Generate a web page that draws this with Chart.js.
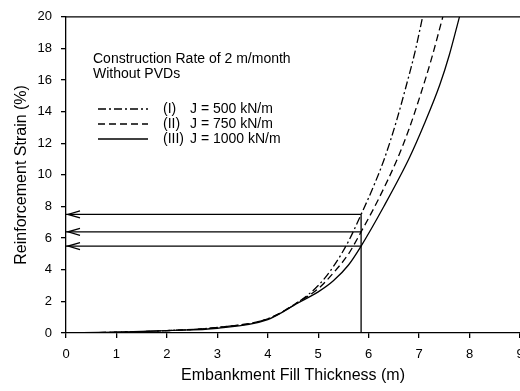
<!DOCTYPE html>
<html>
<head>
<meta charset="utf-8">
<script src="https://cdn.jsdelivr.net/npm/chart.js@4"></script>
<style>
  html, body { margin: 0; padding: 0; background: #fff; overflow: hidden; width: 520px; height: 391px; }
  canvas { display: block; }
</style>
</head>
<body>
<canvas id="c" width="540" height="391"></canvas>
<script>
// ---- data ----
const seriesNames = ["(I)  J = 500 kN/m", "(II)  J = 750 kN/m", "(III) J = 1000 kN/m"];
const xI   = [0, 1, 2, 3, 4, 4.6, 5.0, 5.3, 5.6, 5.85, 6.1, 6.32, 6.55, 6.75, 6.92, 7.07];
const yI   = [0, 0.05, 0.15, 0.35, 0.9, 1.95, 3.0, 4.2, 5.8, 7.5, 9.3, 11.1, 13.4, 15.7, 17.8, 20];
const xII  = [0, 1, 2, 3, 4, 4.6, 5.0, 5.3, 5.6, 5.85, 6.2, 6.58, 6.8, 7.03, 7.25, 7.47];
const yII  = [0, 0.05, 0.15, 0.35, 0.9, 1.95, 2.8, 3.8, 5.0, 6.4, 8.5, 11.1, 12.9, 15.1, 17.4, 20];
const xIII = [0, 1, 2, 3, 4, 4.6, 5.0, 5.3, 5.6, 5.85, 6.3, 6.81, 7.1, 7.41, 7.6, 7.8];
const yIII = [0, 0.05, 0.15, 0.3, 0.85, 1.9, 2.6, 3.3, 4.3, 5.5, 8.0, 11.1, 13.2, 15.7, 17.6, 20];
const markX = 5.85;
const markY = [7.5, 6.4, 5.5];
const titleLines = ["Construction Rate of 2 m/month", "Without PVDs"];
const xTitle = "Embankment Fill Thickness (m)";
const yTitle = "Reinforcement Strain (%)";

const pts = (xs, ys) => xs.map((x, i) => ({ x: x, y: ys[i] }));
const dashes = [[8, 3, 2, 3], [7, 4], []];
const FONT = "'Liberation Sans', Arial, sans-serif";

const curveSets = [pts(xI, yI), pts(xII, yII), pts(xIII, yIII)].map((d, i) => ({
  label: seriesNames[i], data: d, borderColor: '#000', borderWidth: 1.3,
  borderDash: dashes[i], pointRadius: 0, fill: false,
  cubicInterpolationMode: 'monotone', tension: 0.4
}));
const markSets = markY.map(v => ({
  label: 'mark', data: [{ x: markX, y: v }, { x: 0, y: v }],
  borderColor: '#000', borderWidth: 1.3, pointRadius: 0, fill: false
}));
markSets.push({
  label: 'mark', data: [{ x: markX, y: 0 }, { x: markX, y: Math.max(...markY) }],
  borderColor: '#000', borderWidth: 1.3, pointRadius: 0, fill: false
});

const decor = {
  id: 'decor',
  afterDatasetsDraw(chart) {
    const ctx = chart.ctx, a = chart.chartArea;
    const xs = chart.scales.x, ys = chart.scales.y;
    ctx.save();
    ctx.strokeStyle = '#000';
    ctx.lineWidth = 1.3;
    // top frame
    ctx.beginPath(); ctx.moveTo(a.left, a.top); ctx.lineTo(a.right + 20, a.top); ctx.stroke();
    // arrowheads
    markY.forEach(v => {
      const px = xs.getPixelForValue(0) + 2, py = ys.getPixelForValue(v);
      ctx.beginPath();
      ctx.moveTo(px + 12, py - 3.5); ctx.lineTo(px, py); ctx.lineTo(px + 12, py + 3.5);
      ctx.stroke();
    });
    // legend / caption
    ctx.fillStyle = '#000';
    ctx.font = '14px ' + FONT;
    ctx.textBaseline = 'middle';
    ctx.textAlign = 'left';
    ctx.fillText(titleLines[0], a.left + 27, 59);
    ctx.fillText(titleLines[1], a.left + 27, 74);
    const ly = [109, 124, 139];
    ly.forEach((y, i) => {
      ctx.setLineDash(dashes[i]);
      ctx.beginPath(); ctx.moveTo(a.left + 32, y); ctx.lineTo(a.left + 82, y); ctx.stroke();
      ctx.setLineDash([]);
      const parts = seriesNames[i].split(/\s+(?=J)/);
      ctx.fillText(parts[0], a.left + 97, y);
      ctx.fillText(parts[1], a.left + 124, y);
    });
    ctx.restore();
  }
};

new Chart(document.getElementById('c'), {
  type: 'line',
  data: { datasets: curveSets.concat(markSets) },
  options: {
    responsive: false, animation: false,
    layout: { padding: { left: 12, top: 15, right: 20, bottom: 0 } },
    plugins: { legend: { display: false }, tooltip: { enabled: false } },
    scales: {
      x: {
        type: 'linear', min: 0, max: 9,
        ticks: { stepSize: 1, color: '#000', font: { family: FONT, size: 13 }, padding: 9, maxRotation: 0 },
        grid: { display: true, drawOnChartArea: false, drawTicks: true, tickLength: 5, color: '#000', lineWidth: 1.3 },
        border: { display: true, color: '#000', width: 1.3 },
        title: { display: true, text: xTitle, color: '#000', font: { family: FONT, size: 16 }, padding: { top: 4, bottom: 6 } },
        afterFit(s) { s.height = 58; }
      },
      y: {
        type: 'linear', min: 0, max: 20,
        ticks: { stepSize: 2, color: '#000', font: { family: FONT, size: 13 }, padding: 9 },
        grid: { display: true, drawOnChartArea: false, drawTicks: true, tickLength: 5, color: '#000', lineWidth: 1.3 },
        border: { display: true, color: '#000', width: 1.3 },
        title: { display: true, text: yTitle, color: '#000', font: { family: FONT, size: 16 }, padding: { top: 0, bottom: 8 } },
        afterFit(s) { s.width = 54; }
      }
    }
  },
  plugins: [decor]
});
</script>
</body>
</html>
